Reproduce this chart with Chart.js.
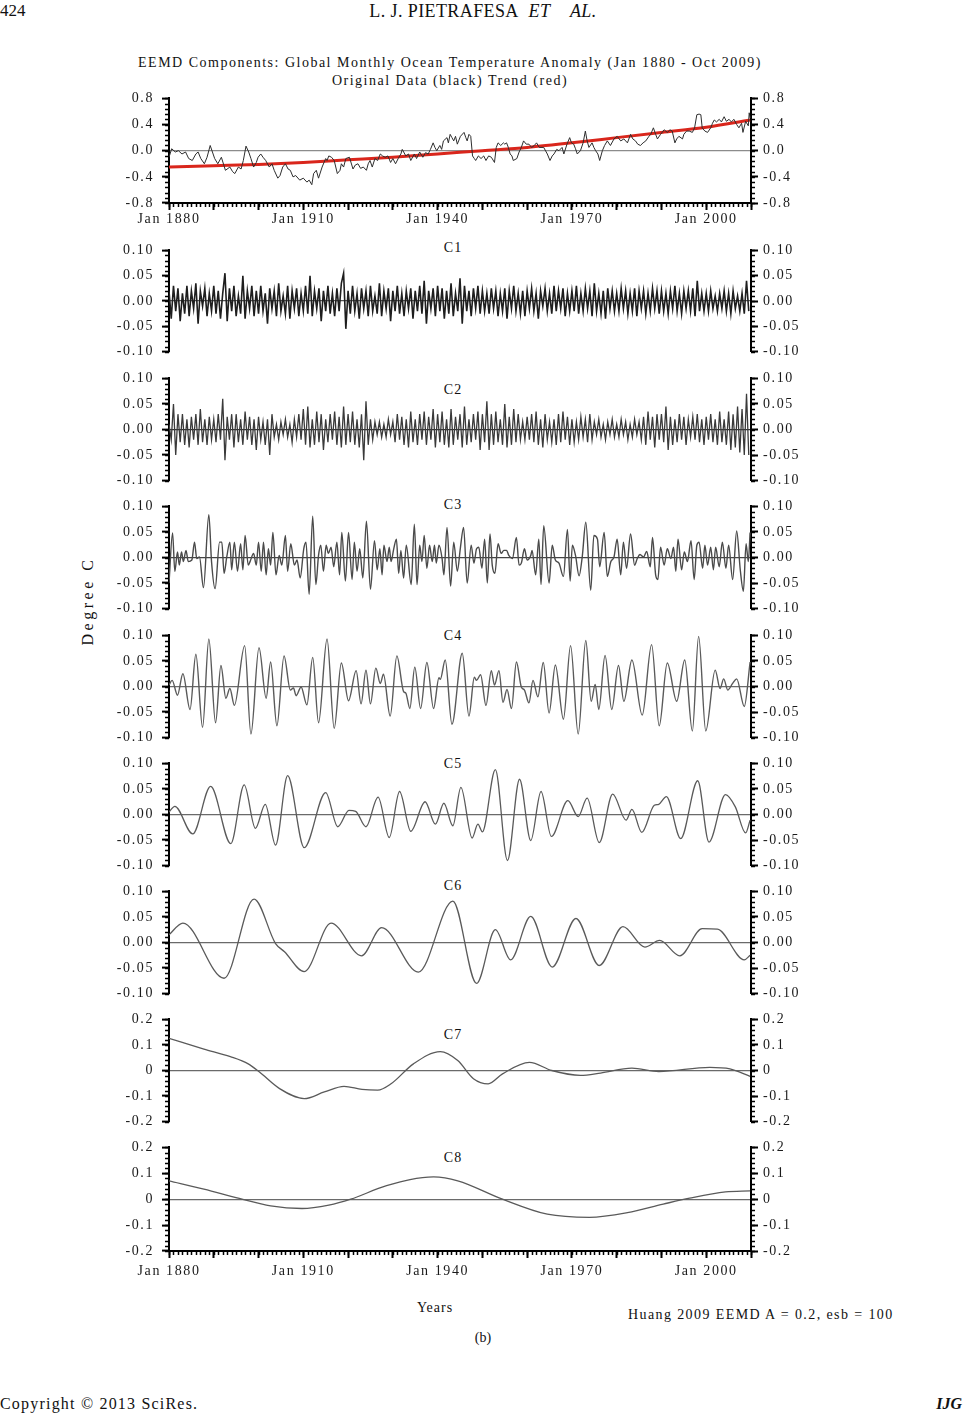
<!DOCTYPE html>
<html>
<head>
<meta charset="utf-8">
<script src="https://cdn.jsdelivr.net/npm/chart.js@4.4.0/dist/chart.umd.min.js"></script>
<style>
  body { margin: 0; background: #fff; width: 965px; height: 1414px; position: relative; overflow: hidden;
         font-family: "Liberation Serif", "DejaVu Serif", serif; color: #111; }
  .t { position: absolute; white-space: nowrap; line-height: 1; }
  .c { transform: translateX(-50%); }
  canvas { position: absolute; left: 0; }
</style>
</head>
<body>

<div class="t" style="left:0;top:2px;font-size:17px;">424</div>
<div class="t c" style="left:483px;top:2px;font-size:18px;letter-spacing:0.4px;">L. J. PIETRAFESA&nbsp;&nbsp;<i>ET&nbsp;&nbsp;&nbsp;&nbsp;AL.</i></div>

<div class="t c" style="left:450px;top:56px;font-size:14px;letter-spacing:1.5px;">EEMD Components: Global Monthly Ocean Temperature Anomaly (Jan 1880 - Oct 2009)</div>
<div class="t c" style="left:450px;top:74px;font-size:14px;letter-spacing:1.5px;">Original Data (black) Trend (red)</div>

<div class="t c" style="left:453px;top:241px;font-size:14px;letter-spacing:1px;">C1</div>
<div class="t c" style="left:453px;top:383px;font-size:14px;letter-spacing:1px;">C2</div>
<div class="t c" style="left:453px;top:498px;font-size:14px;letter-spacing:1px;">C3</div>
<div class="t c" style="left:453px;top:629px;font-size:14px;letter-spacing:1px;">C4</div>
<div class="t c" style="left:453px;top:757px;font-size:14px;letter-spacing:1px;">C5</div>
<div class="t c" style="left:453px;top:879px;font-size:14px;letter-spacing:1px;">C6</div>
<div class="t c" style="left:453px;top:1028px;font-size:14px;letter-spacing:1px;">C7</div>
<div class="t c" style="left:453px;top:1151px;font-size:14px;letter-spacing:1px;">C8</div>

<div class="t" style="left:88px;top:601px;font-size:16px;letter-spacing:3.5px;transform:translate(-50%,-50%) rotate(-90deg);">Degree C</div>

<div class="t c" style="left:435px;top:1301px;font-size:14px;letter-spacing:1px;">Years</div>
<div class="t" style="left:628px;top:1308px;font-size:14px;letter-spacing:1.4px;">Huang 2009 EEMD A = 0.2, esb = 100</div>
<div class="t c" style="left:483px;top:1331px;font-size:14px;">(b)</div>

<div class="t" style="left:0;top:1396px;font-size:16px;letter-spacing:1.2px;">Copyright © 2013 SciRes.</div>
<div class="t" style="right:3px;top:1396px;font-size:16px;font-weight:bold;font-style:italic;">IJG</div>

<script>
// ---------- Données ----------
// série d'origine, anomalie mensuelle (°C)
const origYear = [1880.0,1880.6,1881.4,1882.1,1882.9,1883.7,1884.4,1885.2,1886.0,1886.5,1887.1,1887.9,1888.5,1889.2,1890.2,1890.9,1891.7,1892.6,1893.6,1894.2,1894.7,1895.5,1896.1,1896.6,1897.2,1897.8,1898.3,1898.9,1899.5,1899.9,
  1900.5,1901.0,1901.6,1902.4,1903.0,1903.5,1904.3,1904.8,1905.4,1906.0,1906.6,1907.1,1907.7,1908.3,1909.2,1910.0,1910.8,1911.3,1911.9,1912.3,1912.9,1913.4,1914.2,1915.0,1915.3,1915.7,1916.3,1916.9,1917.6,1918.2,
  1918.5,1919.0,1919.5,1920.3,1921.1,1921.6,1922.2,1922.8,1923.4,1924.1,1924.5,1924.9,1925.4,1926.0,1926.6,1927.2,1927.7,1928.3,1928.9,1929.5,1930.0,1930.6,1931.2,1931.8,1932.1,1932.9,1933.5,1934.0,1934.8,1935.3,
  1936.0,1936.7,1937.3,1937.9,1938.4,1939.0,1939.4,1939.8,1940.5,1940.9,1941.3,1942.1,1942.4,1942.8,1943.2,1943.6,1944.0,1944.4,1945.1,1945.9,1946.3,1946.6,1947.0,1947.4,1947.8,1948.2,1948.5,1949.1,1949.7,1950.3,
  1950.8,1951.4,1952.0,1952.7,1953.1,1953.5,1954.1,1954.7,1955.0,1955.4,1955.8,1956.2,1956.6,1956.9,1957.7,1958.2,1958.7,1959.2,1959.8,1960.4,1961.0,1961.6,1962.1,1962.7,1963.7,1964.5,1965.1,1965.6,1966.0,1966.6,
  1967.1,1967.8,1968.2,1968.9,1969.5,1969.9,1970.4,1970.8,1971.2,1971.9,1972.5,1973.0,1973.4,1973.8,1974.5,1974.9,1975.3,1975.8,1976.2,1976.8,1977.3,1977.9,1978.6,1979.4,1980.1,1980.9,1981.6,1982.4,1983.1,1983.6,
  1984.2,1984.7,1985.3,1985.9,1986.5,1987.2,1987.6,1988.2,1988.7,1989.1,1989.8,1990.6,1991.3,1991.9,1992.4,1993.0,1993.4,1993.9,1994.7,1995.0,1995.6,1996.2,1996.9,1997.4,1997.9,1998.4,1998.8,1999.1,1999.7,2000.3,
  2001.0,2001.4,2001.8,2002.3,2002.9,2003.4,2004.0,2004.5,2005.1,2005.6,2006.2,2006.8,2007.3,2007.9,2008.2,2008.8,2009.4,2009.6,2009.8];
const origValue = [-0.10,0.03,-0.02,0.00,-0.05,-0.02,-0.12,-0.15,-0.05,-0.02,-0.12,-0.20,-0.10,0.08,-0.12,-0.20,-0.10,-0.30,-0.25,-0.32,-0.35,-0.25,-0.28,-0.15,0.07,-0.02,-0.12,-0.25,-0.18,-0.10,
  -0.05,-0.10,-0.15,-0.25,-0.20,-0.30,-0.42,-0.38,-0.25,-0.20,-0.28,-0.30,-0.40,-0.38,-0.45,-0.42,-0.48,-0.45,-0.52,-0.35,-0.30,-0.42,-0.25,-0.12,-0.15,-0.08,-0.10,-0.15,-0.35,-0.30,
  -0.20,-0.25,-0.12,-0.10,-0.28,-0.22,-0.20,-0.27,-0.25,-0.30,-0.20,-0.15,-0.25,-0.12,-0.15,-0.05,-0.08,-0.10,-0.08,-0.18,-0.12,-0.20,-0.12,-0.05,0.02,-0.08,-0.05,-0.15,-0.05,-0.12,
  -0.02,-0.10,-0.03,-0.05,0.02,0.12,0.05,0.00,0.08,0.02,0.15,0.20,0.12,0.25,0.20,0.15,0.22,0.10,0.22,0.28,0.20,0.15,0.25,0.22,-0.08,-0.12,-0.15,-0.08,-0.12,-0.08,
  -0.15,-0.08,-0.10,-0.18,0.05,0.12,0.08,0.12,0.10,0.12,0.05,-0.05,-0.08,-0.15,-0.12,-0.02,0.05,0.15,0.10,0.10,0.05,0.08,0.12,0.05,0.05,-0.05,-0.15,-0.08,-0.05,0.02,
  0.00,0.05,-0.05,0.10,0.20,0.12,0.10,0.03,-0.05,0.00,0.12,0.30,0.15,0.05,0.12,0.05,0.00,-0.05,-0.15,0.00,0.08,0.15,0.08,0.18,0.22,0.15,0.18,0.12,0.25,0.18,
  0.15,0.10,0.08,0.12,0.15,0.22,0.25,0.35,0.25,0.18,0.25,0.32,0.28,0.32,0.30,0.12,0.18,0.22,0.18,0.25,0.30,0.30,0.28,0.35,0.55,0.56,0.55,0.35,0.30,0.28,
  0.35,0.42,0.47,0.44,0.48,0.44,0.52,0.45,0.48,0.44,0.48,0.40,0.35,0.42,0.28,0.45,0.38,0.58,0.50];

// tendance (rouge)
const trendYear = [1880, 1890, 1900, 1910, 1920, 1930, 1940, 1950, 1960, 1970, 1980, 1990, 2000, 2009.8];
const trendValue = [-0.25, -0.23, -0.21, -0.18, -0.14, -0.10, -0.05, 0.00, 0.05, 0.12, 0.20, 0.28, 0.36, 0.47];

// C1 et C2 : un point par semestre depuis janv. 1880
const c1Value = [
  0.02,-0.035,0.03,-0.02,0.025,-0.04,0.015,-0.025,0.03,-0.03,0.02,-0.015,0.035,-0.045,0.02,-0.01,0.025,-0.03,0.015,-0.02,
  0.03,-0.025,0.02,-0.035,0.015,0.055,-0.04,0.025,-0.02,0.03,-0.03,0.01,-0.025,0.05,-0.035,0.02,-0.015,0.03,-0.03,0.02,
  -0.025,0.03,-0.02,0.015,-0.045,0.025,-0.015,0.02,-0.03,0.035,-0.02,0.01,-0.025,0.03,-0.035,0.02,-0.015,0.025,-0.03,0.015,
  -0.02,0.03,-0.025,0.05,-0.03,0.02,-0.015,0.025,-0.04,0.02,-0.02,0.03,-0.025,0.015,-0.03,0.025,-0.02,0.035,0.055,-0.055,
  0.02,-0.025,0.03,-0.02,0.015,-0.035,0.025,-0.015,0.02,-0.03,0.03,-0.02,0.01,-0.025,0.035,-0.03,0.02,-0.015,0.025,-0.04,
  0.02,-0.02,0.03,-0.025,0.015,-0.03,0.02,-0.015,0.025,-0.035,0.02,-0.02,0.03,-0.025,0.04,-0.045,0.02,-0.015,0.025,-0.03,
  0.03,-0.02,0.025,-0.035,0.02,-0.025,0.035,-0.03,0.015,-0.02,0.045,-0.045,0.03,-0.02,0.02,-0.03,0.025,-0.015,0.03,-0.025,
  0.02,-0.02,0.015,-0.025,0.025,-0.015,0.02,-0.03,0.015,-0.02,0.025,-0.035,0.02,-0.015,0.03,-0.02,0.015,-0.025,0.02,-0.03,
  0.02,-0.015,0.025,-0.02,0.015,-0.035,0.02,-0.01,0.025,-0.02,0.015,-0.025,0.03,-0.02,0.02,-0.015,0.025,-0.03,0.015,-0.02,
  0.02,-0.02,0.03,-0.025,0.015,-0.02,0.025,-0.015,0.02,-0.03,0.035,-0.02,0.015,-0.025,0.02,-0.035,0.025,-0.015,0.02,-0.02,
  0.015,-0.02,0.025,-0.015,0.02,-0.025,0.015,-0.02,0.025,-0.03,0.02,-0.015,0.02,-0.025,0.015,-0.02,0.025,-0.015,0.02,-0.025,
  0.02,-0.02,0.015,-0.025,0.02,-0.015,0.03,-0.02,0.015,-0.025,0.02,-0.015,0.02,-0.02,0.025,-0.03,0.04,-0.02,0.015,-0.02,
  0.015,-0.02,0.02,-0.015,0.01,-0.02,0.015,-0.015,0.02,-0.02,0.015,-0.025,0.02,-0.015,0.01,-0.02,0.015,-0.025,0.04,-0.02];
const c2Value = [
  0.01,-0.02,0.05,-0.05,0.03,-0.025,0.03,-0.03,0.02,-0.035,0.025,-0.02,0.03,-0.03,0.04,-0.025,0.02,-0.03,0.025,-0.02,
  0.02,-0.025,0.03,-0.02,0.06,-0.06,0.025,-0.02,0.03,-0.035,0.03,-0.025,0.02,-0.03,0.035,-0.02,0.025,-0.03,0.02,-0.04,
  0.025,-0.02,0.015,-0.03,0.02,-0.05,0.03,-0.015,0.01,-0.02,0.015,-0.01,0.02,-0.015,0.01,-0.025,0.02,-0.015,0.03,-0.02,
  0.04,-0.03,0.045,-0.035,0.02,-0.03,0.035,-0.025,0.03,-0.04,0.02,-0.025,0.03,-0.02,0.035,-0.03,0.025,-0.035,0.045,-0.03,
  0.03,-0.025,0.035,-0.03,0.02,-0.035,0.03,-0.06,0.055,-0.03,0.02,-0.02,0.015,-0.01,0.015,-0.015,0.01,-0.015,0.02,-0.01,
  0.015,-0.025,0.03,-0.02,0.025,-0.03,0.02,-0.035,0.035,-0.025,0.02,-0.03,0.03,-0.02,0.035,-0.03,0.025,-0.02,0.04,-0.035,
  0.03,-0.025,0.035,-0.03,0.02,-0.035,0.04,-0.03,0.025,-0.02,0.03,-0.035,0.045,-0.03,0.02,-0.025,0.03,-0.02,0.035,-0.04,
  0.03,-0.025,0.055,-0.04,0.03,-0.03,0.035,-0.025,0.02,-0.03,0.05,-0.035,0.025,-0.03,0.04,-0.025,0.03,-0.02,0.015,-0.02,
  0.025,-0.02,0.03,-0.025,0.035,-0.03,0.02,-0.035,0.03,-0.02,0.015,-0.025,0.02,-0.03,0.03,-0.025,0.035,-0.02,0.025,-0.03,
  0.02,-0.025,0.015,-0.02,0.025,-0.015,0.02,-0.025,0.03,-0.02,0.015,-0.01,0.02,-0.015,0.01,-0.02,0.015,-0.01,0.02,-0.015,
  0.01,-0.015,0.02,-0.01,0.015,-0.02,0.01,-0.015,0.02,-0.01,0.015,-0.02,0.025,-0.03,0.035,-0.02,0.025,-0.035,0.03,-0.02,
  0.03,-0.025,0.045,-0.04,0.025,-0.03,0.02,-0.025,0.03,-0.02,0.025,-0.03,0.02,-0.015,0.025,-0.02,0.03,-0.025,0.02,-0.03,
  0.025,-0.02,0.03,-0.025,0.02,-0.03,0.035,-0.025,0.02,-0.03,0.035,-0.04,0.03,-0.035,0.045,-0.045,0.04,-0.05,0.07,-0.05];

// C3 : extrema
const c3Year = [1880.0,1880.8,1881.3,1881.9,1882.3,1882.8,1883.2,1883.8,1884.3,1885.1,1885.7,1886.2,1886.8,1887.7,1888.9,1889.5,1890.3,1891.3,1891.8,1892.3,1892.9,1893.6,1894.0,1894.6,1895.3,1896.0,1896.5,1897.0,1897.7,1898.1,
  1898.9,1899.5,1900.0,1900.6,1901.1,1901.7,1902.2,1902.7,1903.2,1903.9,1904.6,1905.2,1906.0,1906.5,1907.2,1908.0,1908.6,1909.3,1910.1,1910.6,1911.3,1912.1,1912.8,1913.4,1913.9,1914.5,1915.1,1915.6,1916.2,1916.8,
  1917.5,1918.1,1918.6,1919.4,1920.1,1920.9,1921.4,1922.0,1922.6,1923.3,1924.1,1925.0,1925.9,1926.5,1927.1,1927.6,1928.0,1928.7,1929.2,1929.6,1930.2,1930.8,1931.3,1931.8,1932.4,1933.0,1934.1,1934.8,1935.4,1936.0,
  1936.5,1937.0,1937.6,1938.2,1938.8,1939.3,1939.7,1940.3,1941.0,1941.4,1942.1,1942.9,1943.6,1944.4,1945.1,1945.8,1946.6,1947.5,1948.1,1948.7,1949.2,1949.9,1950.5,1951.1,1951.7,1952.2,1952.8,1953.5,1954.2,1954.8,
  1955.4,1955.9,1956.7,1957.6,1958.2,1958.7,1959.4,1960.0,1960.8,1961.1,1961.9,1962.6,1963.1,1963.7,1964.9,1965.6,1966.3,1967.1,1968.1,1969.0,1969.6,1970.1,1970.8,1971.6,1972.3,1973.1,1974.2,1974.9,1975.7,1976.2,
  1977.2,1977.9,1978.7,1979.4,1980.1,1980.9,1981.5,1982.2,1983.1,1984.0,1984.6,1985.2,1986.0,1986.7,1987.5,1988.0,1988.7,1989.2,1989.8,1990.6,1991.3,1992.1,1992.7,1993.2,1993.7,1994.5,1995.1,1995.8,1996.6,1997.3,
  1997.9,1998.4,1999.2,1999.7,2000.3,2001.0,2001.6,2002.1,2002.9,2003.6,2004.4,2005.0,2005.9,2006.8,2007.6,2008.3,2008.9,2009.4,2009.8];
const c3Value = [-0.050,0.048,-0.027,0.011,-0.015,0.011,-0.008,0.014,-0.008,-0.005,0.030,-0.002,0.001,-0.059,0.084,-0.008,-0.061,0.030,0.030,-0.031,0.001,0.030,-0.024,0.030,-0.027,0.027,-0.024,0.043,-0.015,-0.008,
  0.008,-0.015,0.030,-0.027,0.030,-0.034,0.017,-0.015,0.049,-0.034,0.004,-0.015,0.043,-0.027,0.027,-0.015,-0.005,-0.040,0.017,0.030,-0.072,0.081,-0.053,0.004,0.024,-0.027,0.024,0.008,0.020,-0.018,
  0.030,-0.034,0.049,-0.046,0.049,-0.043,0.030,-0.027,0.017,-0.040,0.071,-0.062,0.033,-0.024,0.017,-0.034,0.024,-0.008,0.020,-0.008,0.017,0.036,-0.031,0.014,-0.040,0.024,-0.053,0.065,-0.053,0.024,
  -0.008,0.043,-0.021,0.024,-0.008,0.024,-0.011,0.024,-0.002,-0.034,0.059,-0.056,0.030,-0.027,0.020,0.059,-0.050,0.024,-0.011,0.017,0.020,-0.021,0.036,-0.050,0.046,-0.015,-0.031,0.027,0.008,0.014,
  0.014,0.004,-0.002,0.039,-0.015,-0.011,0.017,-0.005,0.004,0.014,-0.034,0.036,-0.053,0.062,-0.050,0.024,-0.005,-0.011,-0.037,0.055,-0.046,0.024,0.004,-0.036,0.001,0.069,-0.064,0.043,0.036,-0.018,
  0.049,-0.037,-0.008,0.001,0.036,-0.034,0.030,-0.021,0.046,-0.015,-0.002,0.006,0.001,0.012,-0.018,0.039,-0.034,-0.043,0.020,-0.015,0.017,-0.002,0.020,-0.027,0.036,-0.024,0.011,-0.008,0.033,-0.043,
  0.024,0.030,-0.021,0.024,-0.015,0.020,-0.024,0.020,-0.018,0.030,-0.021,0.024,-0.043,0.052,-0.024,-0.066,0.027,-0.008,0.049];

// C4 : extrema
const c4Year = [1880.0,1880.7,1881.9,1883.1,1884.7,1886.0,1887.5,1888.9,1890.4,1891.6,1892.7,1893.6,1894.6,1896.9,1898.3,1900.1,1901.7,1902.7,1904.1,1905.7,1907.1,1907.8,1908.4,1909.5,1910.8,1912.1,1913.4,1915.3,1916.9,1918.5,
  1920.1,1921.8,1922.9,1924.0,1925.0,1926.2,1927.2,1927.9,1929.4,1930.9,1932.4,1932.9,1933.8,1934.9,1936.2,1937.6,1939.1,1940.3,1940.6,1941.7,1943.2,1945.5,1947.0,1948.2,1948.7,1949.6,1950.8,1952.0,1952.7,1953.7,
  1954.6,1955.5,1956.5,1957.6,1958.7,1959.4,1960.4,1961.3,1962.4,1963.6,1964.9,1966.3,1968.1,1969.7,1971.4,1973.1,1974.3,1975.2,1976.0,1977.4,1978.9,1980.4,1981.6,1983.4,1985.7,1987.8,1989.5,1991.3,1993.4,1995.2,
  1996.9,1998.3,1999.9,2002.0,2003.1,2003.9,2004.8,2005.9,2006.8,2008.5,2009.8];
const c4Value = [0.003,0.012,-0.017,0.025,-0.045,0.063,-0.080,0.093,-0.071,0.041,-0.023,-0.004,-0.037,0.080,-0.093,0.076,-0.023,0.048,-0.077,0.060,-0.007,-0.003,-0.018,-0.001,-0.036,0.057,-0.071,0.093,-0.082,0.046,
  -0.028,0.031,-0.034,0.032,-0.034,0.036,0.006,0.024,-0.058,0.060,-0.010,-0.013,-0.043,0.038,-0.043,0.047,-0.043,0.017,0.014,0.052,-0.074,0.065,-0.058,0.018,0.012,0.023,-0.037,0.031,0.003,0.031,
  -0.031,-0.006,-0.043,0.048,-0.001,-0.007,-0.032,0.012,-0.020,0.047,-0.052,0.042,-0.064,0.080,-0.093,0.090,-0.029,0.004,-0.045,0.061,-0.045,0.041,-0.029,0.052,-0.056,0.082,-0.077,0.046,-0.029,0.052,
  -0.087,0.098,-0.087,0.032,-0.004,0.015,-0.007,0.006,0.015,-0.039,0.048];

// C5 : extrema
const c5Year = [1880.0,1881.3,1885.3,1889.3,1893.8,1896.8,1899.3,1901.5,1903.8,1906.5,1910.2,1915.0,1917.7,1920.2,1921.7,1924.0,1926.7,1929.2,1931.5,1934.0,1937.2,1939.5,1941.4,1943.4,1945.2,1947.7,1949.0,1950.0,1952.9,1955.6,
  1958.3,1960.8,1963.1,1965.4,1969.1,1971.4,1973.4,1976.1,1979.1,1982.1,1983.4,1985.6,1988.4,1989.4,1991.1,1994.3,1998.1,2000.6,2004.3,2006.5,2008.8,2009.8];
const c5Value = [0.005,0.016,-0.038,0.055,-0.057,0.058,-0.027,0.020,-0.060,0.076,-0.065,0.043,-0.024,0.008,0.006,-0.024,0.034,-0.045,0.045,-0.033,0.025,-0.019,0.022,-0.022,0.053,-0.046,-0.019,-0.034,0.088,-0.090,
  0.069,-0.051,0.045,-0.043,0.027,-0.004,0.032,-0.055,0.040,-0.011,0.010,-0.035,0.018,0.020,0.035,-0.047,0.066,-0.054,0.039,0.015,-0.036,-0.011];

// C6 : extrema
const c6Year = [1880.0,1883.1,1892.3,1899.0,1903.8,1905.8,1910.2,1916.2,1923.0,1927.5,1935.7,1943.4,1948.7,1952.9,1956.3,1960.8,1965.6,1970.9,1976.1,1981.4,1986.3,1989.6,1994.1,1999.1,2002.5,2008.5,2009.8];
const c6Value = [0.015,0.038,-0.070,0.085,-0.002,-0.018,-0.057,0.038,-0.026,0.029,-0.058,0.081,-0.080,0.025,-0.034,0.051,-0.048,0.047,-0.045,0.031,-0.009,0.004,-0.026,0.027,0.026,-0.034,-0.025];

// C7
const c7Year = [1880.0,1887.8,1893.7,1897.7,1900.2,1904.7,1910.2,1914.7,1919.1,1923.1,1926.6,1929.6,1934.6,1940.6,1944.5,1948.0,1951.3,1954.5,1960.5,1965.5,1971.9,1976.4,1983.4,1989.4,2000.8,2005.3,2009.8];
const c7Value = [0.126,0.084,0.054,0.026,-0.006,-0.071,-0.110,-0.084,-0.062,-0.074,-0.077,-0.052,0.026,0.074,0.039,-0.032,-0.052,-0.013,0.032,0.000,-0.019,-0.010,0.009,-0.004,0.012,0.006,-0.023];

// C8
const c8Year = [1880.0,1887.8,1895.7,1902.7,1909.7,1915.7,1920.6,1928.6,1939.1,1944.5,1954.5,1964.5,1973.9,1982.4,1990.4,1996.3,2004.3,2009.8];
const c8Value = [0.071,0.039,0.003,-0.026,-0.036,-0.023,0.000,0.052,0.086,0.071,0.000,-0.058,-0.070,-0.052,-0.019,0.004,0.028,0.032];

// axes
const xLabelYears = [1880, 1910, 1940, 1970, 2000];

// ---------- Dessin ----------
const FONT = '"Liberation Serif", "DejaVu Serif", serif';
const pts = (xs, ys) => xs.map((x, i) => ({ x, y: ys[i] }));
const halfYears = (vals) => vals.map((v, i) => ({ x: 1880 + i * 0.5, y: v }));

const spacing = { id: 'spacing', beforeDraw(c) { c.ctx.letterSpacing = '1.6px'; } };

const minorTicks = {
  id: 'minor',
  afterDraw(chart, args, opts) {
    const ctx = chart.ctx;
    ctx.save();
    ctx.strokeStyle = '#000';
    ctx.lineWidth = 1.5;
    ctx.beginPath();
    ['y', 'y2'].forEach((id) => {
      const s = chart.scales[id];
      const n = Math.round((s.max - s.min) / opts.yStep);
      const x0 = id === 'y' ? s.right : s.left;
      const dx = id === 'y' ? -4 : 4;
      for (let i = 0; i <= n; i++) {
        const py = Math.round(s.getPixelForValue(s.min + i * opts.yStep)) + 0.5;
        ctx.moveTo(x0, py);
        ctx.lineTo(x0 + dx, py);
      }
    });
    const sx = chart.scales.x;
    if (sx.options.display) {
      for (let yr = 1880; yr <= 2010; yr++) {
        const px = Math.round(sx.getPixelForValue(yr)) + 0.5;
        ctx.moveTo(px, sx.top);
        ctx.lineTo(px, sx.top + 4);
      }
    }
    ctx.stroke();
    ctx.restore();
  }
};

const fmt1 = (v) => (Math.abs(v) < 1e-9 ? 0 : v).toFixed(1);
const fmt2 = (v) => (Math.abs(v) < 1e-9 ? 0 : v).toFixed(2);
const fmt0 = (v) => (Math.abs(v) < 1e-9 ? '0' : v.toFixed(1));

const line = (data, color, width, smooth) => ({
  data, borderColor: color, borderWidth: width, pointRadius: 0, fill: false,
  tension: 0, cubicInterpolationMode: smooth ? 'monotone' : 'default', yAxisID: 'y'
});

function panel(cfg) {
  const padTop = 15;
  const axisH = cfg.xAxis ? 32 : 0;
  const padBot = cfg.xAxis ? 0 : 15;
  const cv = document.createElement('canvas');
  cv.width = 965;
  cv.height = padTop + cfg.h + axisH + padBot;
  cv.style.top = (cfg.top - padTop) + 'px';
  document.body.appendChild(cv);

  const tickFont = { family: FONT, size: 14 };
  const yTicks = { stepSize: cfg.step, color: '#1a1a1a', font: tickFont, callback: cfg.fmt };
  const tickGrid = { tickLength: 7, tickWidth: 2, tickColor: '#000' };

  new Chart(cv, {
    type: 'line',
    data: { datasets: cfg.datasets },
    options: {
      responsive: false,
      animation: false,
      events: [],
      layout: { padding: { left: 60, right: 154, top: padTop, bottom: padBot } },
      plugins: { legend: { display: false }, tooltip: { enabled: false }, minor: { yStep: cfg.step / 5 } },
      scales: {
        x: {
          type: 'linear', min: 1880, max: 2010, display: !!cfg.xAxis,
          afterFit: (s) => { s.height = axisH; },
          ticks: {
            stepSize: 10, autoSkip: false, maxRotation: 0, padding: cfg.xPad || 1,
            color: '#1a1a1a', font: tickFont,
            callback: (v) => (xLabelYears.includes(Math.round(v)) ? 'Jan ' + Math.round(v) : '')
          },
          grid: { drawOnChartArea: false, ...tickGrid },
          border: { color: '#000', width: 2 }
        },
        y: {
          position: 'left', min: cfg.min, max: cfg.max,
          afterFit: (s) => { s.width = 109; },
          ticks: { ...yTicks, padding: 8 },
          grid: {
            color: (c) => (Math.abs(c.tick.value) < 1e-9 ? cfg.zero : 'rgba(0,0,0,0)'),
            lineWidth: 1.2, ...tickGrid
          },
          border: { color: '#000', width: 2 }
        },
        y2: {
          position: 'right', min: cfg.min, max: cfg.max,
          afterFit: (s) => { s.width = 60; },
          ticks: { ...yTicks, padding: 5 },
          grid: { drawOnChartArea: false, ...tickGrid },
          border: { color: '#000', width: 2 }
        }
      }
    },
    plugins: [spacing, minorTicks]
  });
}

panel({ top: 97, h: 106, min: -0.8, max: 0.8, step: 0.4, fmt: fmt1, xAxis: true, xPad: 0, zero: '#8c8c8c',
  datasets: [line(pts(origYear, origValue), '#2e2e2e', 1, false),
             line(pts(trendYear, trendValue), '#d9261c', 3, true)] });
panel({ top: 249, h: 104, min: -0.1, max: 0.1, step: 0.05, fmt: fmt2, zero: '#555',
  datasets: [line(halfYears(c1Value), '#1e1e1e', 1.6, false)] });
panel({ top: 377, h: 105, min: -0.1, max: 0.1, step: 0.05, fmt: fmt2, zero: '#333',
  datasets: [line(halfYears(c2Value), '#3a3a3a', 1.3, false)] });
panel({ top: 505, h: 105, min: -0.1, max: 0.1, step: 0.05, fmt: fmt2, zero: '#444',
  datasets: [line(pts(c3Year, c3Value), '#4a4a4a', 1.4, true)] });
panel({ top: 634, h: 105, min: -0.1, max: 0.1, step: 0.05, fmt: fmt2, zero: '#6a6a6a',
  datasets: [line(pts(c4Year, c4Value), '#5a5a5a', 1.4, true)] });
panel({ top: 762, h: 105, min: -0.1, max: 0.1, step: 0.05, fmt: fmt2, zero: '#6a6a6a',
  datasets: [line(pts(c5Year, c5Value), '#5a5a5a', 1.3, true)] });
panel({ top: 890, h: 105, min: -0.1, max: 0.1, step: 0.05, fmt: fmt2, zero: '#6a6a6a',
  datasets: [line(pts(c6Year, c6Value), '#5a5a5a', 1.3, true)] });
panel({ top: 1018, h: 105, min: -0.2, max: 0.2, step: 0.1, fmt: fmt0, zero: '#6a6a6a',
  datasets: [line(pts(c7Year, c7Value), '#5a5a5a', 1.3, true)] });
panel({ top: 1146, h: 105, min: -0.2, max: 0.2, step: 0.1, fmt: fmt0, xAxis: true, xPad: 5, zero: '#6a6a6a',
  datasets: [line(pts(c8Year, c8Value), '#5a5a5a', 1.3, true)] });
</script>
</body>
</html>
